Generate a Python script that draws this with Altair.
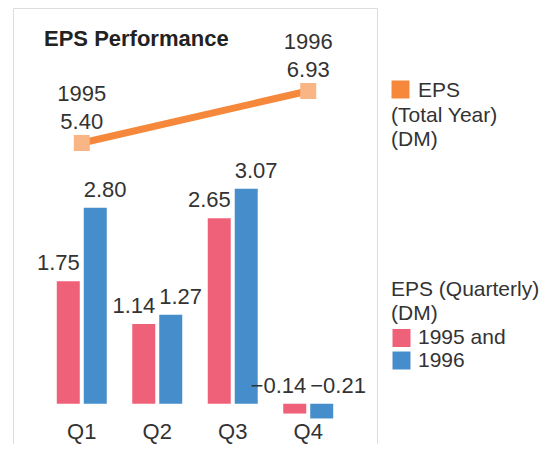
import altair as alt
import pandas as pd

# ---- data ----
quarters = ["Q1", "Q2", "Q3", "Q4"]
eps_1995 = [1.75, 1.14, 2.65, -0.14]
eps_1996 = [2.80, 1.27, 3.07, -0.21]
year_labels = ["1995", "1996"]
total_quarters = ["Q1", "Q4"]
total_years = ["1995", "1996"]
total_eps = [5.40, 6.93]
title_text = "EPS Performance"
legend_top_lines = ["EPS", "(Total Year)", "(DM)"]
legend_bottom_title = ["EPS (Quarterly)", "(DM)"]

PINK = "#ef6178"
BLUE = "#468ecb"
ORANGE = "#f5883a"
LIGHT_ORANGE = "#f9b583"
GRAY = "#e6e6e6"
TEXT = "#333333"
FONT = "Liberation Sans"

rows = []
for q, a, b in zip(quarters, eps_1995, eps_1996):
    rows.append({"quarter": q, "year": year_labels[0], "eps": a, "labelpos": max(a, 0)})
    rows.append({"quarter": q, "year": year_labels[1], "eps": b, "labelpos": max(b, 0)})
bars_df = pd.DataFrame(rows)
bars_df["txt"] = bars_df["eps"].map(lambda v: f"{v:.2f}".replace("-", "\u2212"))

tot_df = pd.DataFrame({"quarter": total_quarters, "year": total_years, "eps": total_eps})
tot_df["txt"] = tot_df["eps"].map(lambda v: f"{v:.2f}")

W, H = 364, 436

xscale = alt.Scale(domain=quarters, paddingInner=0.338, paddingOuter=0.58)
xoff_scale = alt.Scale(domain=year_labels, paddingInner=0.148, paddingOuter=0)
ybar = alt.Scale(domain=[-0.575, 5.653], nice=False, zero=False)
yline = alt.Scale(domain=[-3.453, 9.371], nice=False, zero=False)

base = alt.Chart(bars_df)

bars = base.mark_bar().encode(
    x=alt.X("quarter:N", scale=xscale, sort=quarters,
            axis=alt.Axis(title=None, orient="bottom", offset=-23, ticks=False, tickSize=0,
                          domain=False, labelPadding=0, labelAngle=0, labelFontSize=22,
                          labelColor=TEXT, labelFont=FONT, grid=False)),
    xOffset=alt.XOffset("year:N", scale=xoff_scale),
    y=alt.Y("eps:Q", scale=ybar, axis=None),
    y2=alt.datum(0),
    color=alt.Color("year:N",
                    scale=alt.Scale(domain=year_labels, range=[PINK, BLUE]),
                    legend=alt.Legend(
                        title=legend_bottom_title, orient="none", legendX=378, legendY=271,
                        titleFontSize=21, titleFontWeight="normal", titleColor=TEXT,
                        titleFont=FONT, titleLineHeight=23.5, titlePadding=4,
                        labelFontSize=21, labelColor=TEXT, labelFont=FONT,
                        labelExpr="datum.label == '1995' ? '1995 and' : datum.label",
                        symbolType="square", symbolSize=324, symbolStrokeWidth=0,
                        symbolOpacity=1, rowPadding=0.5, labelOffset=6, padding=0)),
)

lab95 = base.transform_filter(alt.datum.year == year_labels[0]).mark_text(
    align="right", baseline="alphabetic", dx=11.5, dy=-11, fontSize=22, font=FONT, color=TEXT
).encode(
    x=alt.X("quarter:N", scale=xscale, sort=quarters),
    xOffset=alt.XOffset("year:N", scale=xoff_scale),
    y=alt.Y("labelpos:Q", scale=ybar),
    text="txt:N",
)
lab96 = base.transform_filter(alt.datum.year == year_labels[1]).mark_text(
    align="left", baseline="alphabetic", dx=-11.5, dy=-11, fontSize=22, font=FONT, color=TEXT
).encode(
    x=alt.X("quarter:N", scale=xscale, sort=quarters),
    xOffset=alt.XOffset("year:N", scale=xoff_scale),
    y=alt.Y("labelpos:Q", scale=ybar),
    text="txt:N",
)

lbase = alt.Chart(tot_df)
line = lbase.mark_line(color=ORANGE, strokeWidth=7).encode(
    x=alt.X("quarter:N", scale=xscale, sort=quarters),
    y=alt.Y("eps:Q", scale=yline, axis=None),
)
pts = lbase.mark_square(color=LIGHT_ORANGE, size=256, opacity=1, filled=True).encode(
    x=alt.X("quarter:N", scale=xscale, sort=quarters),
    y=alt.Y("eps:Q", scale=yline),
)
lyear = lbase.mark_text(align="center", baseline="alphabetic", dy=-42, fontSize=22,
                        font=FONT, color=TEXT).encode(
    x=alt.X("quarter:N", scale=xscale, sort=quarters),
    y=alt.Y("eps:Q", scale=yline),
    text="year:N",
)
lval = lbase.mark_text(align="center", baseline="alphabetic", dy=-14, fontSize=22,
                       font=FONT, color=TEXT).encode(
    x=alt.X("quarter:N", scale=xscale, sort=quarters),
    y=alt.Y("eps:Q", scale=yline),
    text="txt:N",
)

title = alt.Chart(pd.DataFrame({"t": [title_text]})).mark_text(
    align="left", baseline="alphabetic", fontSize=22, fontWeight="bold", font=FONT, color="#222222"
).encode(x=alt.value(31), y=alt.value(38), text="t:N")

# top legend (line series)
leg_sq = alt.Chart(pd.DataFrame({"k": ["EPS"]})).mark_square(
    color=ORANGE, size=324, opacity=1, filled=True
).encode(x=alt.value(387.5), y=alt.value(81.5))
leg_txt = alt.Chart(pd.DataFrame({
    "t": legend_top_lines,
    "px": [405, 378, 378],
    "py": [89.3, 113.7, 138],
})).mark_text(align="left", baseline="alphabetic", fontSize=21, font=FONT, color=TEXT).encode(
    x=alt.X("px:Q", scale=None), y=alt.Y("py:Q", scale=None), text="t:N"
)

bars_layer = alt.layer(bars, lab95, lab96)
line_layer = alt.layer(line, pts, lyear, lval)

chart = alt.layer(bars_layer, line_layer, title, leg_sq, leg_txt).resolve_scale(
    y="independent", color="independent"
).properties(
    width=W, height=H,
    autosize=alt.AutoSizeParams(type="none"),
    padding={"left": 5, "top": 0, "right": 170, "bottom": 0},
).configure_view(fill=GRAY, stroke=None).configure(font=FONT)

chart.save("out.html", embed_options={"renderer": "svg", "actions": False})
